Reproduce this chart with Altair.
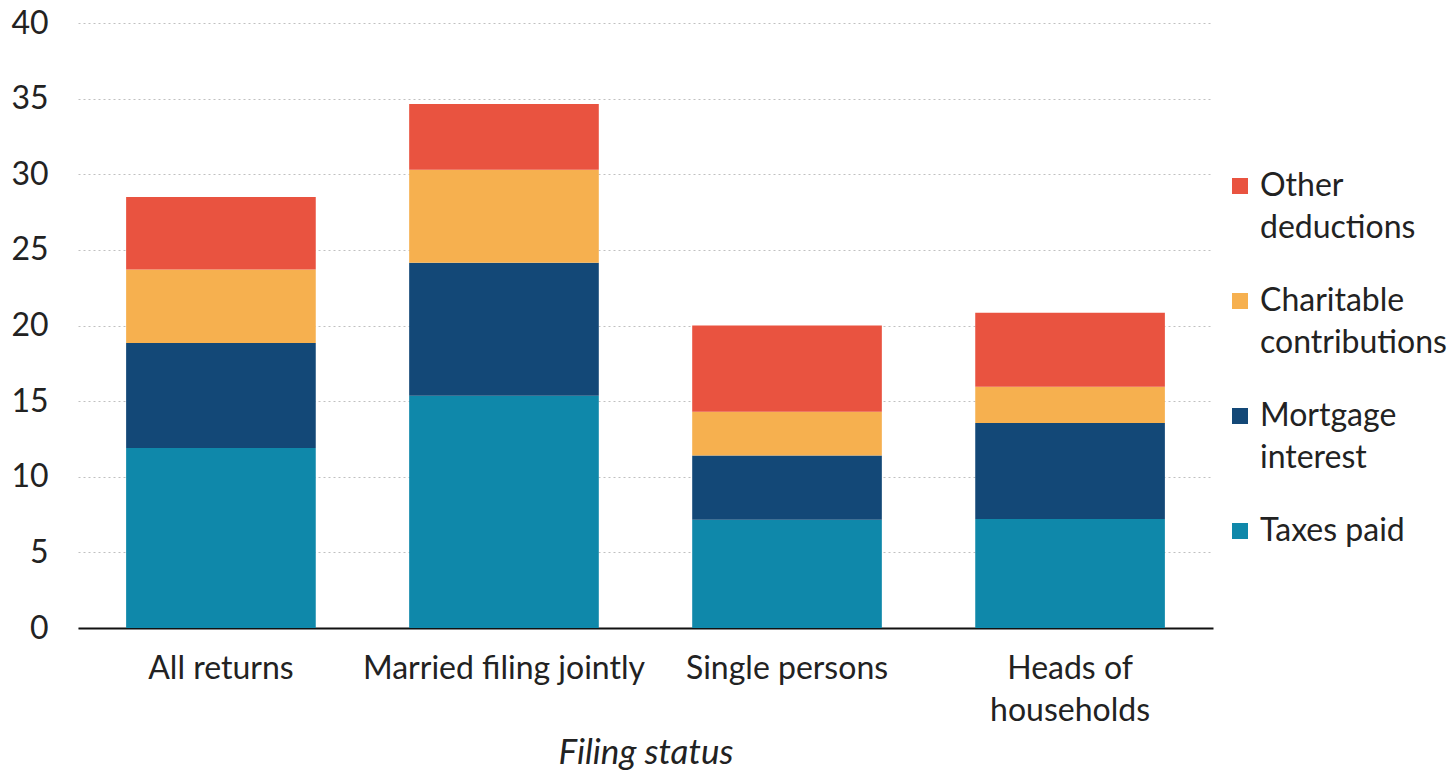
import altair as alt
import pandas as pd

categories = ["All returns", "Married filing jointly", "Single persons", "Heads of households"]
series = ["Taxes paid", "Mortgage interest", "Charitable contributions", "Other deductions"]
taxes_paid = [11.9, 15.35, 7.15, 7.2]
mortgage_interest = [6.95, 8.8, 4.25, 6.35]
charitable = [4.85, 6.15, 2.9, 2.4]
other = [4.8, 4.35, 5.7, 4.9]

legend_order = ["Other deductions", "Charitable contributions", "Mortgage interest", "Taxes paid"]
colors = ["#E95340", "#F6B04F", "#134877", "#0F88AA"]

rows = []
for i, c in enumerate(categories):
    for k, (s, vals) in enumerate(zip(series, [taxes_paid, mortgage_interest, charitable, other])):
        rows.append({"status": c, "type": s, "value": vals[i], "rank": k})
df = pd.DataFrame(rows)

FONT = "Lato"
FS = 32

chart = alt.Chart(df).mark_bar().encode(
    x=alt.X("status:N", sort=categories, title="Filing status",
            scale=alt.Scale(paddingInner=0.33, paddingOuter=0.17),
            axis=alt.Axis(labelAngle=0, labelFontSize=FS, labelColor="#222",
                          labelFont=FONT, labelPadding=25, labelLimit=600,
                          labelExpr="datum.value == 'Heads of households' ? ['Heads of', 'households'] : datum.value",
                          domainColor="#111", domainWidth=2, ticks=False, grid=False,
                          titleFont=FONT, titleFontSize=35, titleFontStyle="italic",
                          titleFontWeight="normal", titleColor="#222", titlePadding=9)),
    y=alt.Y("value:Q", title=None,
            scale=alt.Scale(domain=[0, 40]),
            axis=alt.Axis(values=[0, 5, 10, 15, 20, 25, 30, 35, 40], labelFontSize=FS,
                          labelFont=FONT, labelColor="#222", labelPadding=30,
                          minExtent=65, maxExtent=65,
                          domain=False, ticks=False, gridColor="#c0c0c0",
                          gridDash=[2, 3], gridWidth=1)),
    color=alt.Color("type:N", scale=alt.Scale(domain=legend_order, range=colors),
                    legend=alt.Legend(title=None, symbolType="square", symbolSize=256,
                                      symbolStrokeWidth=0, labelFont=FONT, labelFontSize=FS,
                                      labelColor="#222", labelLimit=400, labelOffset=4,
                                      labelExpr="datum.value == 'Other deductions' ? ['Other', 'deductions'] : datum.value == 'Charitable contributions' ? ['Charitable', 'contributions'] : datum.value == 'Mortgage interest' ? ['Mortgage', 'interest'] : datum.value",
                                      rowPadding=41, padding=0, orient="none",
                                      legendX=1146, legendY=147)),
    order=alt.Order("rank:Q", sort="ascending"),
).properties(
    width=1135, height=605,
    padding={"left": 10, "top": 7, "right": 0, "bottom": 0},
).configure(
    background="white", style={"guide-label": {"lineHeight": 42}}
).configure_view(strokeWidth=0)

chart.save("out.html", embed_options={"renderer": "svg", "actions": False})
